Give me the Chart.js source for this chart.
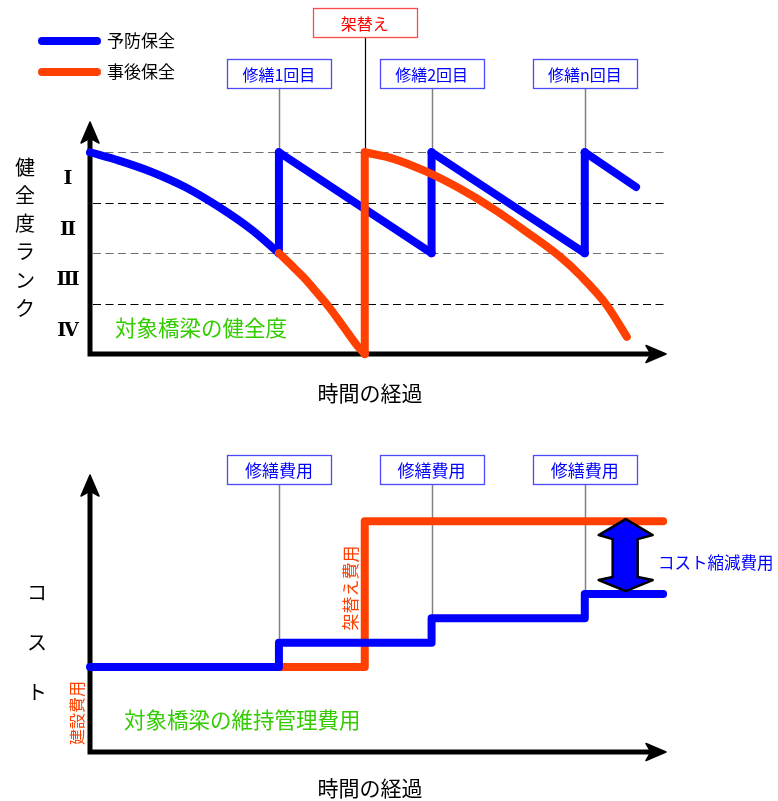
<!DOCTYPE html>
<html>
<head>
<meta charset="utf-8">
<script src="https://cdn.jsdelivr.net/npm/chart.js@4.4.1/dist/chart.umd.min.js"></script>
<style>
  body { margin: 0; background: #fff; }
  canvas { display: block; }
</style>
</head>
<body>
<canvas id="rankChart" width="778" height="420"></canvas>
<canvas id="costChart" width="778" height="381"></canvas>
<script>
// --- data (x = elapsed time, 0..100) ---
const rankLabels = ['Ⅰ', 'Ⅱ', 'Ⅲ', 'Ⅳ'];
const rankBounds = [4, 3, 2, 1];

const preventiveYear   = [0, 4.9, 10.7, 16.5, 22.3, 28.1, 32.8, 32.8, 59.3, 59.3, 85.9, 85.9, 94.8];
const preventiveHealth = [4.0, 3.84, 3.61, 3.31, 2.92, 2.46, 2.0, 4.0, 2.0, 4.0, 2.0, 4.0, 3.31];

const correctiveYear   = [32.8, 34.7, 37.0, 39.3, 41.7, 44.0, 46.3, 47.7,
                          47.7, 52.7, 58.5, 64.2, 70.0, 75.8, 81.6, 85.1, 89.7, 93.2];
const correctiveHealth = [2.0, 1.79, 1.53, 1.23, 0.90, 0.54, 0.18, 0,
                          4.0, 3.87, 3.61, 3.28, 2.88, 2.42, 1.93, 1.56, 0.97, 0.34];

const repairYears  = [32.8, 59.3, 85.9];
const repairLabels = ['修繕1回目', '修繕2回目', '修繕n回目'];
const replaceYear  = 47.7;

const costPreventiveYear  = [0, 32.8, 32.8, 59.3, 59.3, 85.9, 85.9, 99.5];
const costPreventiveValue = [3.5, 3.5, 4.5, 4.5, 5.5, 5.5, 6.5, 6.5];
const costCorrectiveYear  = [32.8, 47.7, 47.7, 99.5];
const costCorrectiveValue = [3.5, 3.5, 9.5, 9.5];
const repairCostLevels    = [4.5, 5.5, 6.5];
const savingYear = 93;

const BLUE = '#0000ff';
const ORANGE = '#ff4000';
const GREEN = '#33cc00';
const JP = '"Noto Sans CJK JP", "Noto Sans", sans-serif';

function lineSet(points, color, smooth) {
    return {
        data: points,
        borderColor: color,
        borderWidth: 8,
        borderCapStyle: 'round',
        borderJoinStyle: 'round',
        pointRadius: 0,
        showLine: true,
        tension: 0,
        cubicInterpolationMode: smooth ? 'monotone' : 'default',
        clip: false
    };
}

// split a series at its vertical jumps so the curved parts can be smoothed
function seriesSets(xs, ys, color) {
    const sets = [];
    let run = [{ x: xs[0], y: ys[0] }];
    for (let i = 1; i < xs.length; i++) {
        const p = { x: xs[i], y: ys[i] };
        if (xs[i] === xs[i - 1]) {
            if (run.length > 1) sets.push(lineSet(run, color, true));
            sets.push(lineSet([run[run.length - 1], p], color, false));
            run = [p];
        } else {
            run.push(p);
        }
    }
    if (run.length > 1) sets.push(lineSet(run, color, true));
    return sets;
}

function stepSet(xs, ys, color) {
    return lineSet(xs.map((v, i) => ({ x: v, y: ys[i] })), color, false);
}

function drawAxes(ctx, a) {
    ctx.save();
    ctx.strokeStyle = '#000';
    ctx.fillStyle = '#000';
    ctx.lineWidth = 5;
    ctx.lineCap = 'butt';
    ctx.beginPath();
    ctx.moveTo(a.left, a.bottom + 2.5);
    ctx.lineTo(a.left, a.top + 14);
    ctx.moveTo(a.left - 2.5, a.bottom);
    ctx.lineTo(a.right - 14, a.bottom);
    ctx.stroke();
    ctx.lineJoin = 'round';
    ctx.lineWidth = 1.5;
    // up arrow
    ctx.beginPath();
    ctx.moveTo(a.left, a.top);
    ctx.lineTo(a.left + 9, a.top + 21);
    ctx.lineTo(a.left, a.top + 16);
    ctx.lineTo(a.left - 9, a.top + 21);
    ctx.closePath();
    ctx.fill(); ctx.stroke();
    // right arrow
    ctx.beginPath();
    ctx.moveTo(a.right, a.bottom);
    ctx.lineTo(a.right - 20, a.bottom - 8.5);
    ctx.lineTo(a.right - 15, a.bottom);
    ctx.lineTo(a.right - 20, a.bottom + 8.5);
    ctx.closePath();
    ctx.fill(); ctx.stroke();
    ctx.restore();
}

function drawBox(ctx, cx, top, w, h, text, textColor, borderColor, font) {
    ctx.save();
    ctx.fillStyle = '#fff';
    ctx.fillRect(cx - w / 2, top, w, h);
    ctx.strokeStyle = borderColor;
    ctx.lineWidth = 1.3;
    ctx.strokeRect(Math.round(cx - w / 2) + 0.5, top + 0.5, w, h);
    ctx.fillStyle = textColor;
    ctx.font = font;
    ctx.textAlign = 'center';
    ctx.textBaseline = 'middle';
    ctx.fillText(text, cx, top + h / 2 + 1);
    ctx.restore();
}

function vline(ctx, x, y1, y2, color, w) {
    ctx.save();
    ctx.strokeStyle = color;
    ctx.lineWidth = w;
    ctx.beginPath();
    ctx.moveTo(Math.round(x) + 0.5, y1);
    ctx.lineTo(Math.round(x) + 0.5, y2);
    ctx.stroke();
    ctx.restore();
}

function text(ctx, str, x, y, font, color, align) {
    ctx.save();
    ctx.font = font;
    ctx.fillStyle = color;
    ctx.textAlign = align || 'left';
    ctx.textBaseline = 'middle';
    ctx.fillText(str, x, y);
    ctx.restore();
}

function rotatedText(ctx, str, x, y, font, color) {
    ctx.save();
    ctx.translate(x, y);
    ctx.rotate(-Math.PI / 2);
    text(ctx, str, 0, 0, font, color, 'center');
    ctx.restore();
}

const rankDecor = {
    id: 'rankDecor',
    beforeDatasetsDraw(chart) {
        const { ctx, chartArea: a, scales: { x, y } } = chart;
        ctx.save();
        ctx.lineWidth = 1.2;
        ctx.setLineDash([8, 4.5]);
        rankBounds.forEach((v, i) => {
            ctx.strokeStyle = i % 2 === 0 ? '#707070' : '#000';
            const py = Math.round(y.getPixelForValue(v)) + 0.5;
            ctx.beginPath();
            ctx.moveTo(a.left + 3, py);
            ctx.lineTo(a.right - 2, py);
            ctx.stroke();
        });
        ctx.restore();

        const topY = y.getPixelForValue(4);
        repairYears.forEach(v => vline(ctx, x.getPixelForValue(v), 88, topY, '#808080', 1.5));
        vline(ctx, x.getPixelForValue(replaceYear), 37, topY, '#000', 1.2);
        drawAxes(ctx, a);
    },
    afterDraw(chart) {
        const { ctx, scales: { x, y } } = chart;
        // legend
        ctx.save();
        ctx.lineWidth = 8;
        ctx.lineCap = 'round';
        ctx.strokeStyle = BLUE;
        ctx.beginPath(); ctx.moveTo(42, 41); ctx.lineTo(97, 41); ctx.stroke();
        ctx.strokeStyle = ORANGE;
        ctx.beginPath(); ctx.moveTo(42, 72); ctx.lineTo(97, 72); ctx.stroke();
        ctx.restore();
        text(ctx, '予防保全', 107, 41, '17px ' + JP, '#000');
        text(ctx, '事後保全', 107, 72, '17px ' + JP, '#000');

        // event boxes
        drawBox(ctx, x.getPixelForValue(replaceYear), 8, 104, 29, '架替え', '#ff0000', '#ff4a4a', '16px ' + JP);
        repairYears.forEach((v, i) => {
            drawBox(ctx, x.getPixelForValue(v), 59, 104, 29, repairLabels[i], BLUE, '#4a4aff', '16px ' + JP);
        });

        // y title, stacked characters
        '健全度ランク'.split('').forEach((c, i) => {
            text(ctx, c, 25, 167 + i * 28.3, '20px ' + JP, '#000', 'center');
        });
        // rank labels in the middle of each band
        rankLabels.forEach((lab, i) => {
            const py = y.getPixelForValue(rankBounds[i] - 0.5) + 2;
            text(ctx, lab, 68, py, 'bold 19px "DejaVu Serif", "Liberation Serif", serif', '#000', 'center');
        });

        text(ctx, '対象橋梁の健全度', 115, 328, '21.5px ' + JP, GREEN);
        text(ctx, '時間の経過', 370, 393, '21px ' + JP, '#000', 'center');
    }
};

const costDecor = {
    id: 'costDecor',
    beforeDatasetsDraw(chart) {
        const { ctx, chartArea: a, scales: { x, y } } = chart;
        repairYears.forEach((v, i) => {
            vline(ctx, x.getPixelForValue(v), 64, y.getPixelForValue(repairCostLevels[i]), '#808080', 1.5);
        });
        drawAxes(ctx, a);
    },
    afterDatasetsDraw(chart) {
        const { ctx, scales: { x, y } } = chart;
        // double arrow for the saving
        const cx = x.getPixelForValue(savingYear);
        const top = y.getPixelForValue(costCorrectiveValue[costCorrectiveValue.length - 1]) - 2;
        const bot = y.getPixelForValue(costPreventiveValue[costPreventiveValue.length - 1]) - 3;
        ctx.save();
        ctx.fillStyle = BLUE;
        ctx.strokeStyle = '#000';
        ctx.lineWidth = 2.5;
        ctx.lineJoin = 'round';
        ctx.beginPath();
        ctx.moveTo(cx, top);
        ctx.lineTo(cx + 27, top + 16);
        ctx.lineTo(cx + 12, top + 20);
        ctx.lineTo(cx + 12, bot - 14);
        ctx.lineTo(cx + 27, bot - 11);
        ctx.lineTo(cx, bot);
        ctx.lineTo(cx - 27, bot - 11);
        ctx.lineTo(cx - 13, bot - 14);
        ctx.lineTo(cx - 13, top + 20);
        ctx.lineTo(cx - 27, top + 16);
        ctx.closePath();
        ctx.fill();
        ctx.stroke();
        ctx.restore();
    },
    afterDraw(chart) {
        const { ctx, scales: { x } } = chart;
        repairYears.forEach(v => {
            drawBox(ctx, x.getPixelForValue(v), 35, 104, 29, '修繕費用', BLUE, '#4a4aff', '17px ' + JP);
        });
        ['コ', 'ス', 'ト'].forEach((c, i) => {
            text(ctx, c, 37, 172 + i * 50, '20px ' + JP, '#000', 'center');
        });
        rotatedText(ctx, '建設費用', 77, 293, '16px ' + JP, ORANGE);
        rotatedText(ctx, '架替え費用', 351, 168, '17px ' + JP, ORANGE);
        text(ctx, 'コスト縮減費用', 658, 143, '16.5px ' + JP, BLUE);
        text(ctx, '対象橋梁の維持管理費用', 124, 300, '21.5px ' + JP, GREEN);
        text(ctx, '時間の経過', 370, 368, '21px ' + JP, '#000', 'center');
    }
};

function baseOptions(yMax, padding) {
    return {
        responsive: false,
        animation: false,
        layout: { padding: padding },
        plugins: { legend: { display: false }, tooltip: { enabled: false } },
        scales: {
            x: { type: 'linear', min: 0, max: 100, display: false },
            y: { type: 'linear', min: 0, max: yMax, display: false }
        }
    };
}

// orange listed first so it paints on top in the health chart
new Chart(document.getElementById('rankChart'), {
    type: 'scatter',
    data: {
        datasets: [
            ...seriesSets(correctiveYear, correctiveHealth, ORANGE),
            ...seriesSets(preventiveYear, preventiveHealth, BLUE)
        ]
    },
    options: baseOptions(4.6, { left: 90, right: 112, top: 122, bottom: 66 }),
    plugins: [rankDecor]
});

new Chart(document.getElementById('costChart'), {
    type: 'scatter',
    data: {
        datasets: [
            stepSet(costPreventiveYear, costPreventiveValue, BLUE),
            stepSet(costCorrectiveYear, costCorrectiveValue, ORANGE)
        ]
    },
    options: baseOptions(11.4, { left: 90, right: 112, top: 55, bottom: 49 }),
    plugins: [costDecor]
});
</script>
</body>
</html>
